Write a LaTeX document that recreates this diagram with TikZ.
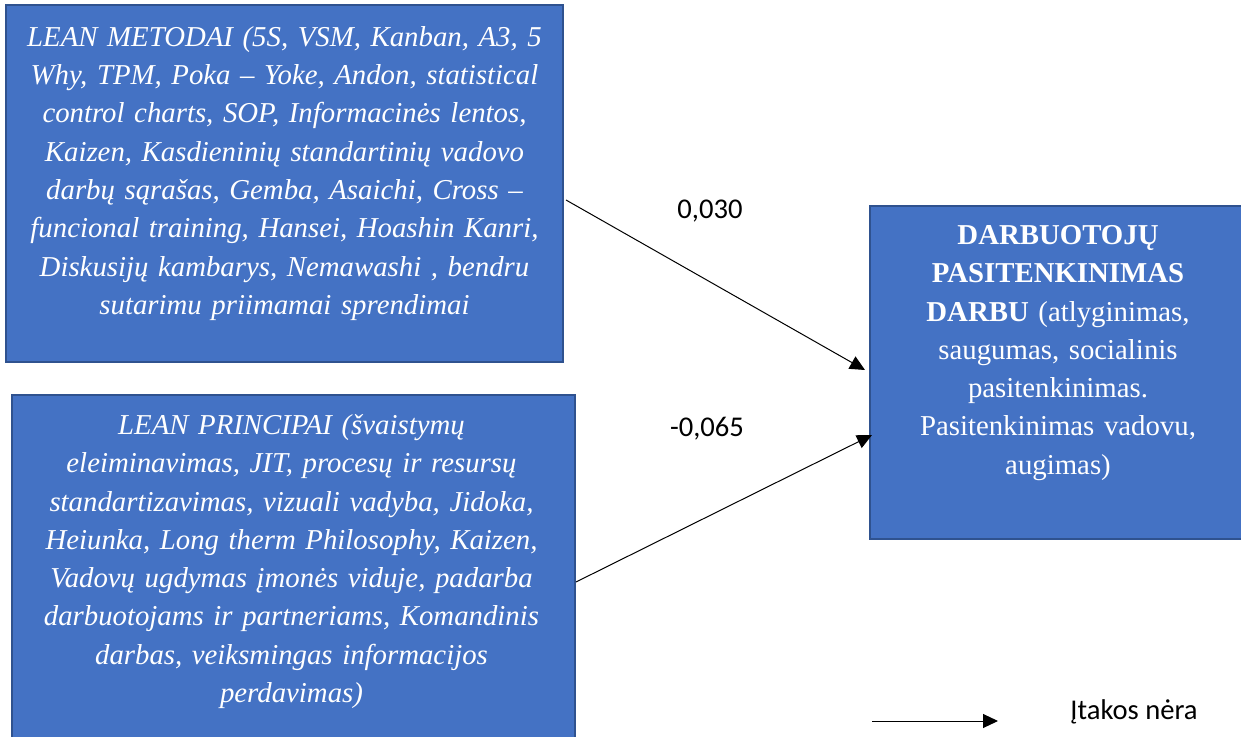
\documentclass[tikz,border=0pt]{standalone}
\usepackage{fontspec}
\setmainfont{Liberation Serif}
\newfontfamily\labelfont{Carlito}
\usepackage{xcolor}
\usetikzlibrary{arrows.meta, positioning}

\definecolor{boxblue}{HTML}{4472C4}
\definecolor{boxborder}{HTML}{2F528F}

\begin{document}
\begin{tikzpicture}[x=0.5pt, y=-0.5pt,
    box/.style={rectangle, draw=boxborder, line width=1pt, fill=boxblue},
    boxtext/.style={anchor=north, inner sep=0pt, text=white, align=center, font=\fontsize{14.4}{19.15}\selectfont},
    weight/.style={font=\labelfont\fontsize{14.3}{17}\selectfont},
    arrow/.style={line width=0.5pt, -{Triangle[length=7.5pt, width=7pt]}}]

    \clip (0,0) rectangle (1241,737);

    % boxes
    \node [box, minimum width=278.5pt, minimum height=178.5pt] (metodai) at (284.5,183.5) {};
    \node [box, minimum width=281.5pt, minimum height=177.5pt] (principai) at (293.5,572.5) {};
    \node [box, minimum width=188pt, minimum height=166.5pt] (pasitenkinimas) at (1058,372.5) {};

    \node [boxtext, text width=274pt, below=11pt of metodai.north] (metodaitext) {\itshape
        LEAN METODAI (5S, VSM, Kanban, A3, 5\\
        Why, TPM, Poka -- Yoke, Andon, statistical\\
        control charts, SOP, Informacinės lentos,\\
        Kaizen, Kasdieninių standartinių vadovo\\
        darbų sąrašas, Gemba, Asaichi, Cross --\\
        funcional training, Hansei, Hoashin Kanri,\\
        Diskusijų kambarys, Nemawashi , bendru\\
        sutarimu priimamai sprendimai};
    \node [boxtext, text width=276pt, below=10pt of principai.north, xshift=-1pt] (principaitext) {\itshape
        LEAN PRINCIPAI (švaistymų\\
        eleiminavimas, JIT, procesų ir resursų\\
        standartizavimas, vizuali vadyba, Jidoka,\\
        Heiunka, Long therm Philosophy, Kaizen,\\
        Vadovų ugdymas įmonės viduje, padarba\\
        darbuotojams ir partneriams, Komandinis\\
        darbas, veiksmingas informacijos\\
        perdavimas)};
    \node [boxtext, text width=180pt, below=10pt of pasitenkinimas.north] (pasitenkinimastext) {
        \textbf{DARBUOTOJŲ}\\
        \textbf{PASITENKINIMAS}\\
        \textbf{DARBU} (atlyginimas,\\
        saugumas, socialinis\\
        pasitenkinimas.\\
        Pasitenkinimas vadovu,\\
        augimas)};

    % weights
    \node [weight] (w1) at (710,211) {0,030};
    \node [weight] (w2) at (707,429) {-0,065};

    \draw [arrow] ([shift={(2,16.5)}]metodai.east) -- ([shift={(-4,-2.5)}]pasitenkinimas.west);
    \draw [arrow] ([shift={(0,9.5)}]principai.east) -- ([shift={(3,62.5)}]pasitenkinimas.west);

    % legend
    \coordinate (legstart) at (872,721);
    \coordinate (legend) at (998,721);
    \node [weight] (legtext) at (1134,712) {Įtakos nėra};
    \draw [arrow] (legstart) -- (legend);
\end{tikzpicture}
\end{document}
